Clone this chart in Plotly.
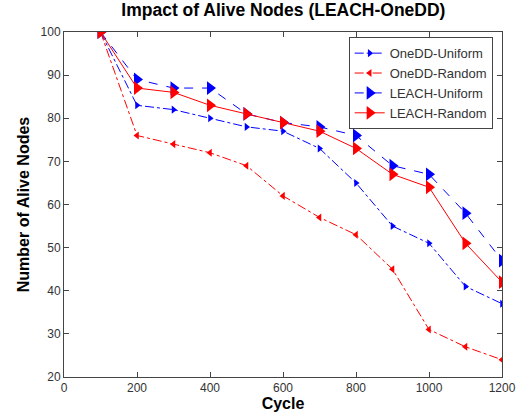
import plotly.graph_objects as go

cycles = [100, 200, 300, 400, 500, 600, 700, 800, 900, 1000, 1100, 1200]
onedd_uniform = [100, 83, 82, 80, 78, 77, 73, 65, 55, 51, 41, 37]
onedd_random = [100, 76, 74, 72, 69, 62, 57, 53, 45, 31, 27, 24]
leach_uniform = [100, 89, 87, 87, 81, 79, 78, 76, 69, 67, 58, 47]
leach_random = [100, 87, 86, 83, 81, 79, 77, 73, 67, 64, 51, 42]

series = [
    ("OneDD-Uniform", onedd_uniform, "#0000ff", "dashdot", "triangle-right", 7),
    ("OneDD-Random", onedd_random, "#ff0000", "dashdot", "triangle-left", 7),
    ("LEACH-Uniform", leach_uniform, "#0000ff", "dash", "triangle-right", 12),
    ("LEACH-Random", leach_random, "#ff0000", "solid", "triangle-right", 12),
]

fig = go.Figure()
for name, ys, color, dash, sym, size in series:
    fig.add_trace(go.Scatter(
        x=cycles, y=ys, name=name, mode="lines+markers",
        line=dict(color=color, dash=dash, width=1),
        marker=dict(symbol=sym, size=size, color=color),
    ))

axis_common = dict(
    showgrid=False, zeroline=False, showline=True, linecolor="#444",
    linewidth=1, mirror="ticks", ticks="inside", ticklen=5, tickcolor="#444",
    tickfont=dict(family="Arial", size=12, color="#333"), automargin=False,
)

fig.update_layout(
    width=520, height=419,
    margin=dict(l=64, r=18, t=32, b=42),
    paper_bgcolor="white", plot_bgcolor="white",
    title=dict(text="<b>Impact of Alive Nodes (LEACH-OneDD)</b>",
               font=dict(family="Arial", size=17.5, color="black"),
               x=0.545, xanchor="center", y=0.99, yanchor="top"),
    xaxis=dict(range=[0, 1200], dtick=200,
               title=dict(text="<b>Cycle</b>", font=dict(family="Arial", size=16, color="black"), standoff=2),
               **axis_common),
    yaxis=dict(range=[20, 100], dtick=10,
               title=dict(text="<b>Number of Alive Nodes</b>", font=dict(family="Arial", size=16, color="black"), standoff=6),
               **axis_common),
    legend=dict(x=0.65, y=0.985, xanchor="left", yanchor="top",
                bordercolor="#444", borderwidth=1, bgcolor="white",
                font=dict(family="Arial", size=13, color="#333"),
                tracegroupgap=0, itemwidth=30),
    showlegend=True,
)

fig.write_html("out.html")
